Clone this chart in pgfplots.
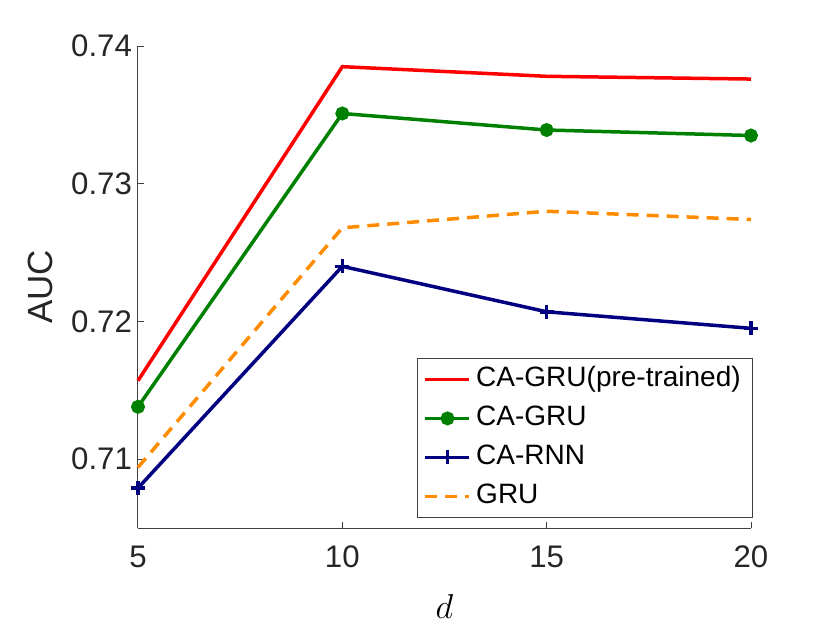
\documentclass[border=0pt]{standalone}
\usepackage{pgfplots}
\pgfplotsset{compat=1.18}
\usepackage{fontspec}
\setmainfont{Liberation Sans}
\definecolor{cred}{rgb}{1,0,0}
\definecolor{cgreen}{rgb}{0,0.5,0}
\definecolor{cblue}{rgb}{0,0,0.5}
\definecolor{corange}{rgb}{1,0.55,0}
\definecolor{axgray}{rgb}{0.25,0.25,0.25}
\begin{document}
\begin{tikzpicture}
\path[use as bounding box] (-69pt,-47.5pt) rectangle (346pt,264pt);
\begin{axis}[
  at={(0,0)}, anchor=south west,
  scale only axis, width=306.5pt, height=241pt,
  xmin=5, xmax=20, ymin=0.705, ymax=0.74,
  xtick={5,10,15,20}, ytick={0.71,0.72,0.73,0.74},
  scaled y ticks=false,
  axis x line*=bottom, axis y line*=left,
  axis line style={draw=axgray, line width=0.5pt, -},
  tick style={draw=axgray, line width=0.5pt},
  major tick length=3pt, tick align=inside,
  tick label style={font=\fontsize{15.6}{18}\selectfont, text=black!85},
  /pgf/number format/assume math mode=true,
  yticklabel style={/pgf/number format/fixed, /pgf/number format/precision=2, /pgf/number format/fixed zerofill, xshift=0.5pt},
  xticklabel style={yshift=-5.3pt},
  xlabel={$d$}, ylabel={AUC},
  every axis x label/.style={at={(axis description cs:0.5,-0.162)}, anchor=center, font=\fontsize{18}{21}\selectfont},
  every axis y label/.style={at={(axis description cs:-0.159,0.5)}, rotate=90, anchor=center, font=\fontsize{17.5}{20}\selectfont, text=black!85},
  clip=false,
  legend cell align=left,
  legend style={at={(1.003,0.0207)}, anchor=south east, draw=axgray, line width=0.5pt,
    font=\fontsize{14}{16}\selectfont, row sep=0pt, inner xsep=3.3pt, inner ysep=0.8pt,
    nodes={inner xsep=2.5pt, inner ysep=3.25pt, text height=10pt, text depth=3pt}},
  legend image code/.code={\draw[mark repeat=2,mark phase=2] plot coordinates {(0pt,0pt) (11pt,0pt) (22pt,0pt)};},
]
\addplot[cred, line width=1.75pt] coordinates {(5,0.7157) (10,0.7385) (15,0.7378) (20,0.7376)};
\addlegendentry{CA-GRU(pre-trained)\hspace{3pt}}
\addplot[cgreen, line width=1.75pt, mark=*, mark size=2.6pt] coordinates {(5,0.7138) (10,0.7351) (15,0.7339) (20,0.7335)};
\addlegendentry{CA-GRU}
\addplot[cblue, line width=1.75pt, mark=+, mark size=3.5pt] coordinates {(5,0.7079) (10,0.7240) (15,0.7207) (20,0.7195)};
\addlegendentry{CA-RNN}
\addplot[corange, line width=1.75pt, dash pattern=on 6pt off 4pt] coordinates {(5,0.7094) (10,0.7268) (15,0.7280) (20,0.7274)};
\addlegendentry{GRU}
\end{axis}
\end{tikzpicture}
\end{document}
